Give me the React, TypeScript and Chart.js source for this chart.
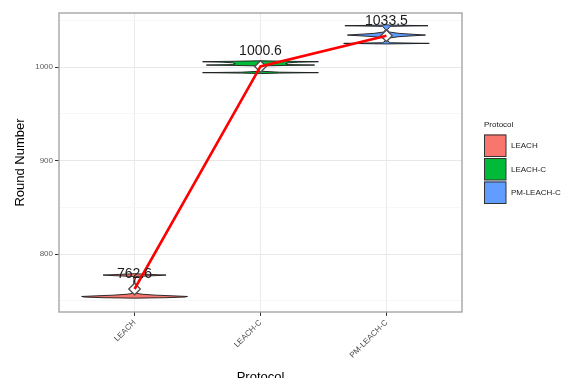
import React, { useEffect, useRef } from 'react';
import { Chart, registerables } from 'chart.js';

Chart.register(...registerables);

const categories = ['LEACH', 'LEACH-C', 'PM-LEACH-C'];
const fillColors = ['#F8766D', '#00BA38', '#619CFF'];
const means = [762.6, 1000.6, 1033.5];
const meanLabels = ['762.6', '1000.6', '1033.5'];
const yTicks = [750, 800, 850, 900, 950, 1000, 1050];
const yLabelTicks = [800, 900, 1000];

// violin density profiles: value (Round Number) and half-width (category units)
const leachValues = [752.8, 753.3, 754.0, 754.6, 755.3, 756.0, 757.0, 758.0, 759.0, 765.0, 772.0, 776.0, 776.8, 777.5, 778.2, 779.0];
const leachWidths = [0, 0.25, 0.4, 0.42, 0.3, 0.17, 0.06, 0.012, 0.004, 0.003, 0.003, 0.01, 0.15, 0.25, 0.12, 0];

const leachCValues = [993.0, 993.5, 994.0, 994.5, 995.5, 998.0, 1000.5, 1001.2, 1001.7, 1002.1, 1002.6, 1003.5, 1004.5, 1005.2, 1005.7, 1006.2, 1006.7];
const leachCWidths = [0, 0.15, 0.46, 0.15, 0.01, 0.006, 0.01, 0.03, 0.2, 0.43, 0.22, 0.2, 0.22, 0.3, 0.46, 0.2, 0];

const pmLeachCValues = [1024.7, 1025.3, 1026.0, 1028.0, 1031.0, 1032.5, 1034.2, 1036.0, 1037.5, 1040.0, 1043.5, 1044.2, 1044.8, 1045.3];
const pmLeachCWidths = [0, 0.34, 0.03, 0.008, 0.02, 0.1, 0.31, 0.1, 0.02, 0.008, 0.03, 0.33, 0.03, 0];

const violinValues = [leachValues, leachCValues, pmLeachCValues];
const violinWidths = [leachWidths, leachCWidths, pmLeachCWidths];

const FONT = '"Liberation Sans", Arial, Helvetica, sans-serif';

function violinPolygon(cat: number, values: number[], widths: number[]) {
  const pts: { x: number; y: number }[] = [];
  for (let i = 0; i < values.length; i++) pts.push({ x: cat + widths[i], y: values[i] });
  for (let i = values.length - 1; i >= 0; i--) pts.push({ x: cat - widths[i], y: values[i] });
  pts.push({ x: cat + widths[0], y: values[0] });
  return pts;
}

const overlayPlugin = {
  id: 'overlay',
  afterDatasetsDraw(chart: any) {
    const { ctx, chartArea, scales } = chart;
    ctx.save();
    ctx.font = `14px ${FONT}`;
    ctx.fillStyle = '#1a1a1a';
    ctx.textAlign = 'center';
    ctx.textBaseline = 'middle';
    means.forEach((m, i) => {
      const x = scales.x.getPixelForValue(i + 1);
      const y = scales.y.getPixelForValue(m) - 15;
      ctx.fillText(meanLabels[i], x, y);
    });
    // panel border
    ctx.strokeStyle = '#a6a6a6';
    ctx.lineWidth = 1.4;
    ctx.strokeRect(chartArea.left, chartArea.top, chartArea.right - chartArea.left, chartArea.bottom - chartArea.top);
    ctx.restore();
  },
  afterDraw(chart: any) {
    const { ctx } = chart;
    ctx.save();
    const lx = 484;
    ctx.font = `8px ${FONT}`;
    ctx.fillStyle = '#1a1a1a';
    ctx.textAlign = 'left';
    ctx.textBaseline = 'middle';
    ctx.fillText('Protocol', lx, 125);
    categories.forEach((c, i) => {
      const top = 134.5 + i * 23.5;
      ctx.fillStyle = fillColors[i];
      ctx.fillRect(lx, top, 22, 22);
      ctx.strokeStyle = '#333333';
      ctx.lineWidth = 1;
      ctx.strokeRect(lx + 0.5, top + 0.5, 21.5, 21.5);
      ctx.fillStyle = '#1a1a1a';
      ctx.fillText(c, 511, top + 11.5);
    });
    ctx.restore();
  },
};

export default function App() {
  const ref = useRef<HTMLCanvasElement | null>(null);
  useEffect(() => {
    document.body.style.margin = '0';
    const canvas = ref.current;
    if (!canvas) return;
    const violinSets = categories.map((c, i) => ({
      label: c,
      data: violinPolygon(i + 1, violinValues[i], violinWidths[i]),
      borderColor: '#1a1a1a',
      borderWidth: 0.9,
      backgroundColor: fillColors[i],
      fill: 'shape',
      pointRadius: 0,
      tension: 0,
      order: 2,
    }));
    const meanData = means.map((m, i) => ({ x: i + 1, y: m }));
    const chart = new Chart(canvas, {
      type: 'line',
      data: {
        datasets: [
          {
            label: 'mean line',
            data: meanData,
            borderColor: '#FF0000',
            borderWidth: 2.6,
            pointRadius: 0,
            fill: false,
            order: 0,
          },
          {
            label: 'mean points',
            data: meanData,
            showLine: false,
            pointStyle: 'rectRot',
            pointRadius: 5.8,
            pointBackgroundColor: '#ffffff',
            pointBorderColor: '#4d4d4d',
            pointBorderWidth: 1.3,
            order: 1,
          },
          ...violinSets,
        ] as any,
      },
      options: {
        animation: false,
        responsive: true,
        maintainAspectRatio: false,
        layout: { padding: { top: 13, right: 115, left: 0, bottom: 0 } },
        plugins: { legend: { display: false }, tooltip: { enabled: false } },
        scales: {
          x: {
            type: 'linear',
            min: 0.4,
            max: 3.6,
            afterBuildTicks: (s: any) => {
              s.ticks = categories.map((_, i) => ({ value: i + 1 }));
            },
            afterFit: (s: any) => {
              s.height = 66;
            },
            ticks: {
              autoSkip: false,
              minRotation: 45,
              maxRotation: 45,
              padding: 2,
              color: '#4d4d4d',
              font: { size: 8, family: FONT },
              callback: (v: any) => categories[Number(v) - 1] ?? '',
            },
            grid: { color: '#ebebeb', lineWidth: 1, tickLength: 4, tickColor: '#333333' },
            border: { display: false },
            title: {
              display: true,
              text: 'Protocol',
              color: '#000000',
              font: { size: 13, family: FONT, lineHeight: 1.2 },
              padding: { top: 0, bottom: -7 },
            },
          },
          y: {
            type: 'linear',
            min: 738,
            max: 1057.8,
            afterBuildTicks: (s: any) => {
              s.ticks = yTicks.map((v) => ({ value: v }));
            },
            afterFit: (s: any) => {
              s.width = 59;
            },
            ticks: {
              autoSkip: false,
              padding: 2,
              color: '#5a5a5a',
              font: { size: 8, family: FONT },
              callback: (v: any) => (yLabelTicks.includes(Number(v)) ? String(v) : ''),
            },
            grid: {
              color: (ctx: any) => (yLabelTicks.includes(ctx.tick?.value) ? '#e8e8e8' : '#f3f3f3'),
              lineWidth: (ctx: any) => (yLabelTicks.includes(ctx.tick?.value) ? 1 : 0.7),
              tickLength: 4,
              tickColor: (ctx: any) => (yLabelTicks.includes(ctx.tick?.value) ? '#333333' : 'rgba(0,0,0,0)'),
            },
            border: { display: false },
            title: {
              display: true,
              text: 'Round Number',
              color: '#000000',
              font: { size: 13, family: FONT, lineHeight: 1.2 },
              padding: { top: 13, bottom: 0 },
            },
          },
        },
      },
      plugins: [overlayPlugin],
    });
    return () => chart.destroy();
  }, []);
  return (
    <div style={{ width: 577, height: 378, position: 'relative' }}>
      <canvas ref={ref} />
    </div>
  );
}
